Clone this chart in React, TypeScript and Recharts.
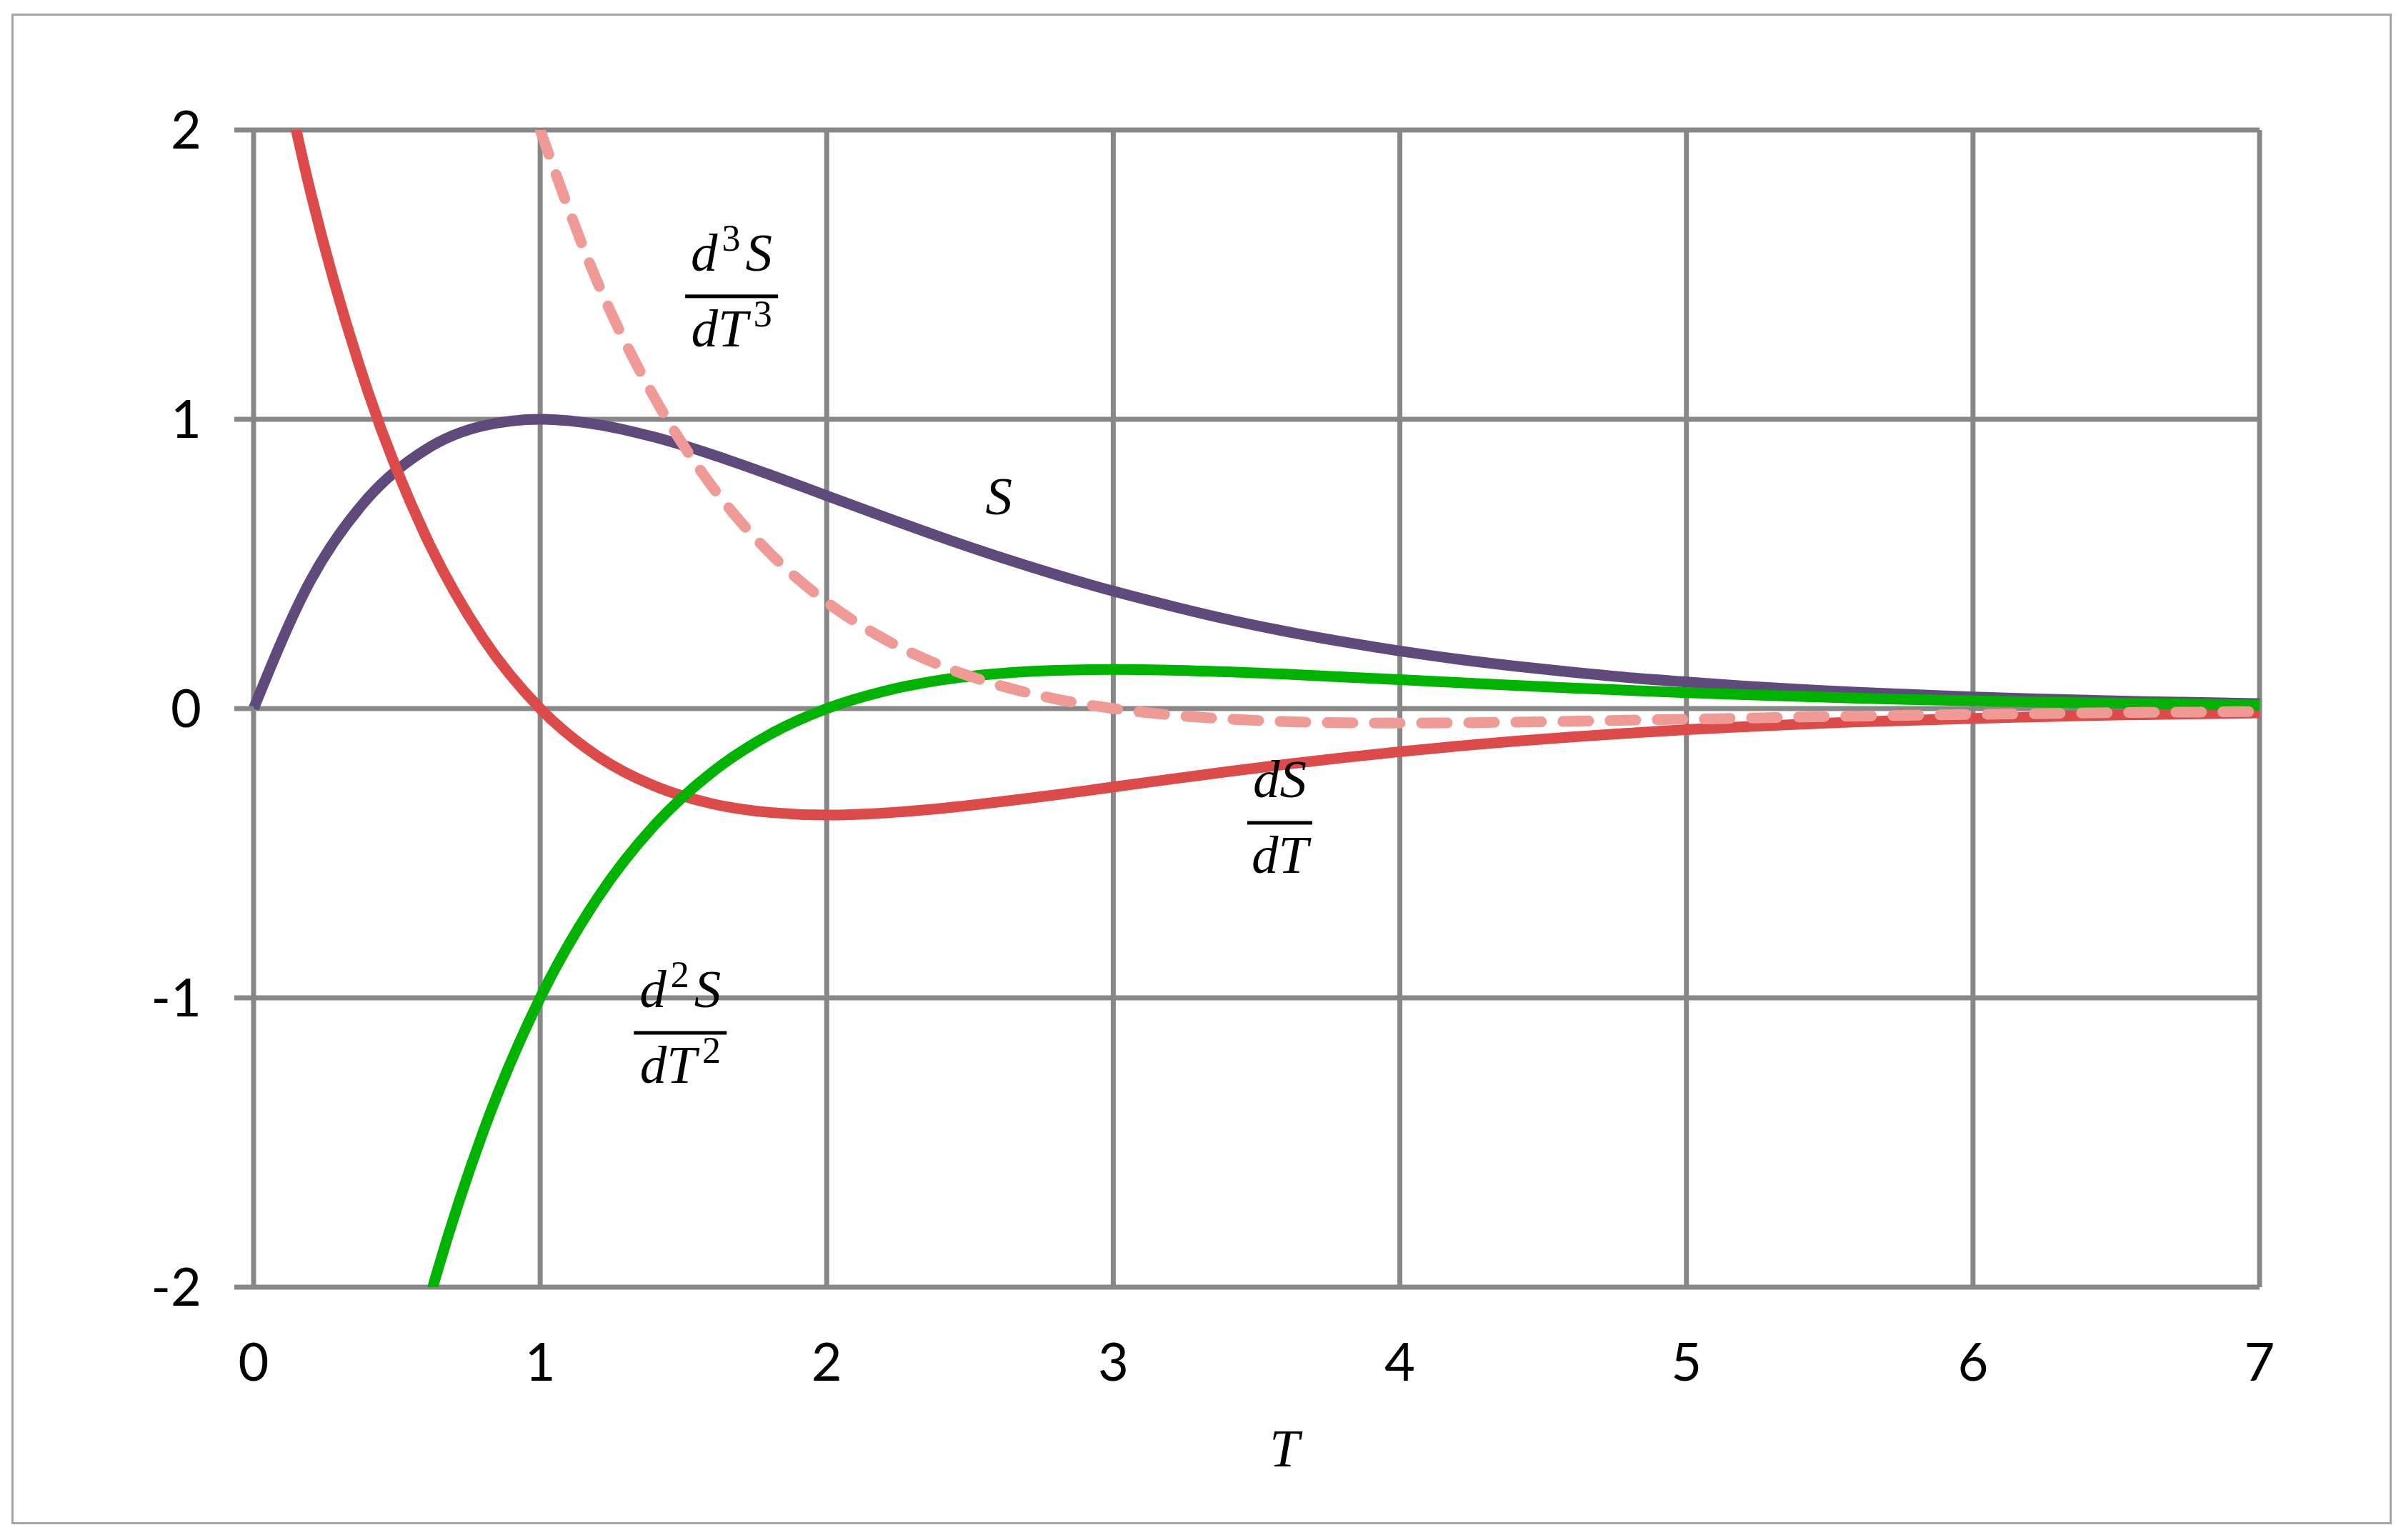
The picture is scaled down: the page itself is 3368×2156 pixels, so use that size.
import React from "react";
import {
  CartesianGrid,
  Line,
  LineChart,
  ReferenceDot,
  XAxis,
  YAxis,
} from "recharts";

// T values (step 0.2) and the four curves
const tValues = [
  0, 0.2, 0.4, 0.6, 0.8, 1, 1.2, 1.4, 1.6, 1.8, 2, 2.2, 2.4, 2.6, 2.8, 3, 3.2,
  3.4, 3.6, 3.8, 4, 4.2, 4.4, 4.6, 4.8, 5, 5.2, 5.4, 5.6, 5.8, 6, 6.2, 6.4, 6.6,
  6.8, 7,
];

const sValues = [
  0, 0.445, 0.729, 0.895, 0.977, 1.0, 0.982, 0.938, 0.878, 0.809, 0.736, 0.663,
  0.592, 0.525, 0.463, 0.406, 0.355, 0.308, 0.267, 0.231, 0.199, 0.171, 0.147,
  0.126, 0.107, 0.092, 0.078, 0.066, 0.056, 0.048, 0.04, 0.034, 0.029, 0.024,
  0.021, 0.017,
];

const dsValues = [
  2.718, 1.78, 1.093, 0.597, 0.244, 0, -0.164, -0.268, -0.329, -0.359, -0.368,
  -0.361, -0.345, -0.323, -0.298, -0.271, -0.244, -0.218, -0.193, -0.17, -0.149,
  -0.13, -0.113, -0.098, -0.085, -0.073, -0.063, -0.054, -0.046, -0.04, -0.034,
  -0.029, -0.024, -0.021, -0.018, -0.015,
];

const d2sValues = [
  -5.437, -4.006, -2.915, -2.089, -1.466, -1.0, -0.655, -0.402, -0.22, -0.09, 0,
  0.06, 0.099, 0.121, 0.132, 0.135, 0.133, 0.127, 0.119, 0.109, 0.1, 0.09, 0.08,
  0.071, 0.063, 0.055, 0.048, 0.042, 0.036, 0.031, 0.027, 0.023, 0.02, 0.017,
  0.015, 0.012,
];

const d3sValues = [
  null, null, null, null, null, 2.0, 1.474, 1.073, 0.768, 0.539, 0.368, 0.241,
  0.148, 0.081, 0.033, 0, -0.022, -0.036, -0.045, -0.049, -0.05, -0.049, -0.047,
  -0.044, -0.04, -0.037, -0.033, -0.029, -0.026, -0.023, -0.02, -0.018, -0.015,
  -0.013, -0.012, -0.01,
];

const xTicks = [0, 1, 2, 3, 4, 5, 6, 7];
const yTicks = [-2, -1, 0, 1, 2];

const data = tValues.map((t, i) => ({
  t,
  s: sValues[i],
  ds: dsValues[i],
  d2s: d2sValues[i],
  d3s: d3sValues[i],
}));

const GRID = "#878787";
const MATH_FONT = "'Liberation Serif', 'DejaVu Serif', serif";
const MATH_SIZE = 75;
const SUP_SIZE = 52;
const SUP_SHIFT = 28;

// "d" + optional power + letter, all italic except the power
function Term({ x, y, letter, power, powerAfter }: any) {
  const supBefore = power && !powerAfter;
  return (
    <text
      x={x}
      y={y}
      textAnchor="middle"
      fontFamily={MATH_FONT}
      fontSize={MATH_SIZE}
      fill="#000"
    >
      <tspan fontStyle="italic">d</tspan>
      {supBefore && (
        <tspan fontSize={SUP_SIZE} dx={6} dy={-SUP_SHIFT}>
          {power}
        </tspan>
      )}
      <tspan fontStyle="italic" dx={supBefore ? 7 : 0} dy={supBefore ? SUP_SHIFT : 0}>
        {letter}
      </tspan>
      {power && powerAfter && (
        <tspan fontSize={SUP_SIZE} dx={8} dy={-SUP_SHIFT}>
          {power}
        </tspan>
      )}
    </text>
  );
}

function Fraction({ cx, cy, power, width }: any) {
  return (
    <g>
      <Term x={cx} y={cy - 36} letter="S" power={power} />
      <rect x={cx - width / 2} y={cy - 2.5} width={width} height={5} fill="#000" />
      <Term x={cx} y={cy + 70} letter="T" power={power} powerAfter />
    </g>
  );
}

export default function App() {
  return (
    <div style={{ position: "relative", width: 3368, height: 2156 }}>
      <style>{"body{margin:0}"}</style>
      <div
        style={{
          position: "absolute",
          left: 16,
          top: 19,
          width: 3332,
          height: 2115,
          border: "3px solid #a6a6a6",
          boxSizing: "border-box",
        }}
      />
      <LineChart
        width={3368}
        height={2156}
        data={data}
        margin={{ top: 182, right: 205, bottom: 254, left: 255 }}
        style={{ position: "absolute", left: 0, top: 0 }}
      >
        <CartesianGrid stroke={GRID} strokeWidth={7} />
        <XAxis
          dataKey="t"
          type="number"
          domain={[0, 7]}
          ticks={xTicks}
          axisLine={false}
          tickLine={false}
          tickSize={0}
          tickMargin={78}
          height={100}
          tick={{ fill: "#000", fontSize: 74, fontFamily: "Lato" }}
          label={(p: any) => (
            <text
              x={p.viewBox.x + p.viewBox.width / 2 + 39}
              y={p.viewBox.y + 251}
              textAnchor="middle"
              fontFamily={MATH_FONT}
              fontSize={MATH_SIZE}
              fontStyle="italic"
              fill="#000"
            >
              T
            </text>
          )}
        />
        <YAxis
          type="number"
          domain={[-2, 2]}
          ticks={yTicks}
          allowDataOverflow
          axisLine={false}
          tickLine={{ stroke: GRID, strokeWidth: 7 }}
          tickSize={27}
          tickMargin={46}
          width={100}
          tick={{ fill: "#000", fontSize: 74, fontFamily: "Lato" }}
        />
        <Line
          dataKey="s"
          type="monotone"
          stroke="#604a7b"
          strokeWidth={15}
          dot={false}
          isAnimationActive={false}
        />
        <Line
          dataKey="ds"
          type="monotone"
          stroke="#dc4b4a"
          strokeWidth={15}
          dot={false}
          isAnimationActive={false}
        />
        <Line
          dataKey="d2s"
          type="monotone"
          stroke="#00b300"
          strokeWidth={15}
          dot={false}
          isAnimationActive={false}
        />
        <Line
          dataKey="d3s"
          type="monotone"
          stroke="#f09a96"
          strokeWidth={15}
          strokeDasharray="36 30"
          strokeLinecap="round"
          dot={false}
          isAnimationActive={false}
        />
        <ReferenceDot
          x={2.601}
          y={0.672}
          r={0}
          shape={(p: any) => (
            <text
              x={p.cx}
              y={p.cy}
              textAnchor="middle"
              fontFamily={MATH_FONT}
              fontSize={MATH_SIZE}
              fontStyle="italic"
              fill="#000"
            >
              S
            </text>
          )}
        />
        <ReferenceDot
          x={1.668}
          y={1.425}
          r={0}
          shape={(p: any) => <Fraction cx={p.cx} cy={p.cy} power="3" width={130} />}
        />
        <ReferenceDot
          x={3.581}
          y={-0.395}
          r={0}
          shape={(p: any) => <Fraction cx={p.cx} cy={p.cy} width={91} />}
        />
        <ReferenceDot
          x={1.489}
          y={-1.121}
          r={0}
          shape={(p: any) => <Fraction cx={p.cx} cy={p.cy} power="2" width={130} />}
        />
      </LineChart>
    </div>
  );
}
